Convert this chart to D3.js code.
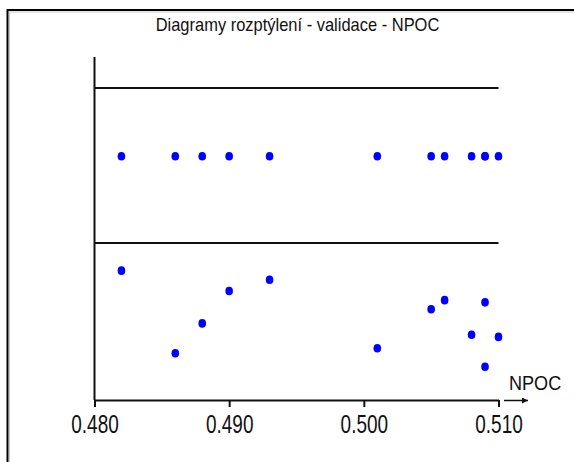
<!DOCTYPE html>
<html>
<head>
<meta charset="utf-8">
<script src="https://cdn.jsdelivr.net/npm/d3@7"></script>
<style>
  html, body { margin: 0; padding: 0; background: #fff; }
  svg { display: block; }
  text { font-family: "Liberation Sans", Arial, sans-serif; fill: #111; }
</style>
</head>
<body>
<svg id="chart" width="574" height="462"></svg>
<script>
// Measured NPOC values of the validation samples
const npoc = [0.482, 0.486, 0.488, 0.490, 0.493, 0.501, 0.505, 0.506, 0.509, 0.508, 0.510, 0.509];
// Predicted NPOC for the same samples (lower panel)
const predicted = [0.5112, 0.4849, 0.4944, 0.5047, 0.5083, 0.4865, 0.4989, 0.5018, 0.5011, 0.4908, 0.4901, 0.4806];
const xTicks = [0.480, 0.490, 0.500, 0.510];
const titleText = "Diagramy rozptýlení - validace - NPOC";
const axisName = "NPOC";

const svg = d3.select("#chart");

// Outer frame
svg.append("rect")
  .attr("x", 7.5).attr("y", 10).attr("width", 600).attr("height", 500)
  .attr("fill", "none").attr("stroke", "#000").attr("stroke-width", 2);
svg.append("rect")
  .attr("x", 9.5).attr("y", 12).attr("width", 600).attr("height", 500)
  .attr("fill", "none").attr("stroke", "#c8c8c8").attr("stroke-width", 1);

const x = d3.scaleLinear().domain([0.480, 0.510]).range([94.5, 498.5]);
// Upper strip panel and lower scatter panel share the x scale
const upperTop = 88, split = 243, bottom = 400;
const yStrip = d3.scaleLinear().domain([0, 1]).range([split, upperTop]);
const yPred = d3.scaleLinear().domain([0.470, 0.520]).range([bottom, split]);

// Condense text horizontally to a narrow face
function condense(sel, factor) {
  sel.each(function () {
    const w = this.getComputedTextLength();
    d3.select(this).attr("textLength", w * factor).attr("lengthAdjust", "spacingAndGlyphs");
  });
}

// Title
svg.append("text")
  .attr("x", 297.5).attr("y", 30.5)
  .attr("text-anchor", "middle")
  .attr("font-size", 18.5)
  .text(titleText)
  .call(condense, 0.89);

// Panel separators
svg.append("g").selectAll("line")
  .data([upperTop, split])
  .join("line")
  .attr("x1", x.range()[0]).attr("x2", x.range()[1])
  .attr("y1", d => d).attr("y2", d => d)
  .attr("stroke", "#111").attr("stroke-width", 2);

// Y axis line
svg.append("line")
  .attr("x1", 94.5).attr("x2", 94.5).attr("y1", 57).attr("y2", bottom)
  .attr("stroke", "#111").attr("stroke-width", 2);

// X axis
const xAxis = d3.axisBottom(x).tickValues(xTicks).tickFormat(d3.format(".3f")).tickSize(7).tickSizeOuter(0);
const gx = svg.append("g").attr("transform", `translate(0,${bottom})`).call(xAxis);
gx.select(".domain").attr("stroke", "#111").attr("stroke-width", 2);
gx.selectAll(".tick line").attr("stroke", "#111").attr("stroke-width", 2);
gx.selectAll(".tick text")
  .attr("font-size", 25).attr("font-family", "Liberation Sans, Arial, sans-serif")
  .attr("fill", "#111").attr("y", 33).attr("dy", 0)
  .call(condense, 0.76);

// Axis arrow and name
svg.append("defs").append("marker")
  .attr("id", "arrow").attr("viewBox", "0 0 10 10")
  .attr("refX", 10).attr("refY", 5)
  .attr("markerWidth", 10).attr("markerHeight", 6)
  .attr("markerUnits", "userSpaceOnUse")
  .attr("orient", "auto")
  .append("path").attr("d", "M0,0 L10,5 L0,10 Z").attr("fill", "#111");
svg.append("line")
  .attr("x1", 504).attr("x2", 528).attr("y1", bottom + 0.5).attr("y2", bottom + 0.5)
  .attr("stroke", "#111").attr("stroke-width", 1.5)
  .attr("marker-end", "url(#arrow)");
svg.append("text")
  .attr("x", 509).attr("y", 390)
  .attr("font-size", 21)
  .text(axisName)
  .call(condense, 0.86);

// Upper strip: measured values
svg.append("g").selectAll("ellipse")
  .data(npoc)
  .join("ellipse")
  .attr("cx", d => x(d))
  .attr("cy", yStrip(0.56))
  .attr("rx", 3.8).attr("ry", 4.3)
  .attr("fill", "#0000ff");

// Lower scatter: measured vs predicted
svg.append("g").selectAll("ellipse")
  .data(npoc.map((v, i) => [v, predicted[i]]))
  .join("ellipse")
  .attr("cx", d => x(d[0]))
  .attr("cy", d => yPred(d[1]))
  .attr("rx", 3.8).attr("ry", 4.3)
  .attr("fill", "#0000ff");
</script>
</body>
</html>
